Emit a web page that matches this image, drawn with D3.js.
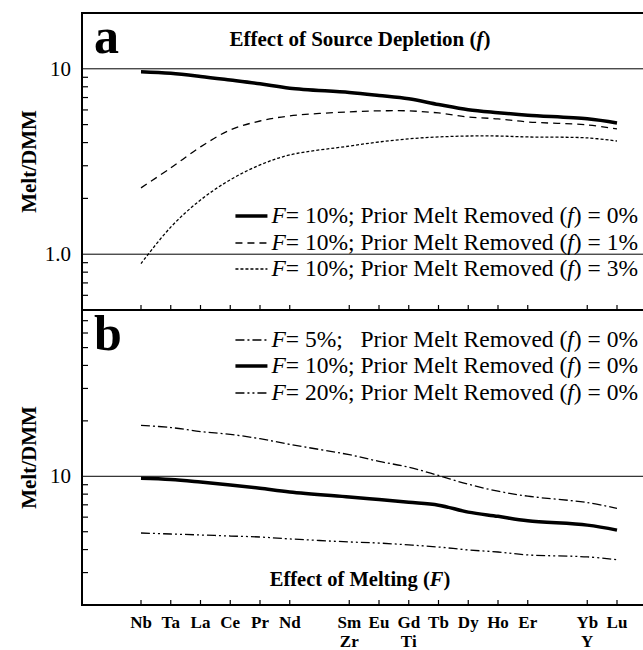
<!DOCTYPE html>
<html><head><meta charset="utf-8">
<script src="https://cdn.jsdelivr.net/npm/d3@7"></script>
<style>body{margin:0;background:#fff}</style>
</head><body>
<script>
// element positions along the x axis (gaps at 6 and 14)
const elements = ["Nb","Ta","La","Ce","Pr","Nd","Sm","Eu","Gd","Tb","Dy","Ho","Er","Yb","Lu"];
const elemPos  = [0,1,2,3,4,5,7,8,9,10,11,12,13,15,16];
const subLabels = {Sm:"Zr", Gd:"Ti", Yb:"Y"};

// panel a: source depletion
const aF10f0 = [9.63,9.45,9.1,8.7,8.30,7.86,7.45,7.18,6.89,6.42,6.02,5.8,5.62,5.37,5.10];
const aF10f1 = [2.28,2.92,3.79,4.68,5.23,5.57,5.86,5.93,5.93,5.78,5.50,5.37,5.17,4.98,4.74];
const aF10f3 = [0.89,1.40,1.96,2.52,3.03,3.43,3.83,4.03,4.19,4.29,4.34,4.34,4.29,4.24,4.08];
// panel b: melting
const bF5  = [18.9,18.4,17.5,16.9,16.0,14.9,13.1,12.05,11.2,10.1,9.05,8.3,7.8,7.2,6.7];
const bF10 = [9.75,9.6,9.3,8.97,8.61,8.22,7.72,7.48,7.23,6.97,6.39,6.06,5.73,5.43,5.1];
const bF20 = [4.92,4.86,4.80,4.74,4.68,4.57,4.40,4.34,4.24,4.13,3.98,3.88,3.74,3.65,3.52];

const FONT = "'Liberation Serif', 'Times New Roman', 'DejaVu Serif', serif";
const W = 643, H = 650, left = 82, right = 643;
const svg = d3.select("body").append("svg").attr("width", W).attr("height", H)
  .attr("font-family", FONT);

const x = d3.scaleLinear().domain([0,16]).range([141,617]);

const styles = {
  solid: {w:3.5, dash:null},
  dash: {w:1.3, dash:"7,5"},
  dot: {w:1.3, dash:"3,2"},
  dashdot: {w:1.3, dash:"9,3,2,3"},
  dashdotdot: {w:1.3, dash:"9,3,2,3,2,3"}
};

function panel(top, bottom, domain, gridVals, tickFmt, series, label, title, titleY, legend) {
  const y = d3.scaleLog().domain(domain).range([bottom, top]);
  const g = svg.append("g");
  g.selectAll("line.grid").data(gridVals).enter().append("line")
    .attr("x1", left).attr("x2", right).attr("y1", d => y(d)).attr("y2", d => y(d))
    .attr("stroke", "#000").attr("stroke-width", 1);
  const ticks = y.ticks().filter(d => d > domain[0] && d < domain[1]);
  g.selectAll("line.yt").data(ticks).enter().append("line")
    .attr("x1", left).attr("x2", d => gridVals.includes(d) ? left : left + 6)
    .attr("y1", d => y(d)).attr("y2", d => y(d)).attr("stroke", "#000").attr("stroke-width", 1.2);
  g.selectAll("text.yl").data(gridVals).enter().append("text")
    .attr("x", left - 11).attr("y", d => y(d) + 7).attr("text-anchor", "end")
    .attr("font-size", 21).text(tickFmt);
  g.selectAll("line.xt").data(elemPos).enter().append("line")
    .attr("x1", d => x(d)).attr("x2", d => x(d)).attr("y1", bottom).attr("y2", bottom - 5)
    .attr("stroke", "#000").attr("stroke-width", 1.2);
  const line = d3.line().x((d,i) => x(elemPos[i])).y(d => y(d)).curve(d3.curveCatmullRom.alpha(0.5));
  series.forEach(s => {
    g.append("path").attr("d", line(s.data)).attr("fill", "none").attr("stroke", "#000")
      .attr("stroke-width", styles[s.style].w).attr("stroke-dasharray", styles[s.style].dash);
  });
  g.append("text").attr("x", 94).attr("y", top + 40).attr("font-size", 50).attr("font-weight", "bold").text(label);
  const t = g.append("text").attr("x", 360).attr("y", titleY).attr("text-anchor", "middle")
    .attr("font-size", title.size).attr("font-weight", "bold");
  t.append("tspan").text(title.text + " (");
  t.append("tspan").attr("font-style", "italic").text(title.sym);
  t.append("tspan").text(")");
  legend.forEach(l => {
    const tx = g.append("text").attr("x", 638).attr("y", l.y).attr("text-anchor", "end").attr("font-size", 23.5)
      .style("white-space", "pre");
    tx.append("tspan").attr("font-style", "italic").text("F");
    tx.append("tspan").text("= " + l.F + (l.F.length < 4 ? "   " : " ") + "Prior Melt Removed (");
    tx.append("tspan").attr("font-style", "italic").text("f");
    tx.append("tspan").text(") = " + l.f);
    const start = 638 - tx.node().getComputedTextLength();
    g.append("line").attr("x1", start - 36).attr("x2", start - 4).attr("y1", l.y - 7).attr("y2", l.y - 7)
      .attr("stroke", "#000").attr("stroke-width", styles[l.style].w).attr("stroke-dasharray", styles[l.style].dash);
  });
  g.append("rect").attr("x", left).attr("y", top).attr("width", right - left + 2).attr("height", bottom - top)
    .attr("fill", "none").attr("stroke", "#000").attr("stroke-width", 2);
  g.append("text").attr("transform", `translate(36,${(top + bottom) / 2}) rotate(-90)`)
    .attr("text-anchor", "middle").attr("font-size", 21).attr("font-weight", "bold").text("Melt/DMM");
}

panel(13, 310, [0.5, 20], [10, 1], d => d === 1 ? "1.0" : "10",
  [{data: aF10f0, style: "solid"}, {data: aF10f1, style: "dash"}, {data: aF10f3, style: "dot"}],
  "a", {text: "Effect of Source Depletion", sym: "f", size: 21}, 46,
  [{F: "10%;", f: "0%", style: "solid", y: 223}, {F: "10%;", f: "1%", style: "dash", y: 250}, {F: "10%;", f: "3%", style: "dot", y: 276}]);

panel(310, 605, [2, 80], [10], d => "10",
  [{data: bF5, style: "dashdot"}, {data: bF10, style: "solid"}, {data: bF20, style: "dashdotdot"}],
  "b", {text: "Effect of Melting", sym: "F", size: 20.5}, 586,
  [{F: "5%;", f: "0%", style: "dashdot", y: 347}, {F: "10%;", f: "0%", style: "solid", y: 373}, {F: "20%;", f: "0%", style: "dashdotdot", y: 400}]);

svg.selectAll("text.el").data(elements).enter().append("text")
  .attr("x", (d,i) => x(elemPos[i])).attr("y", 628).attr("text-anchor", "middle")
  .attr("font-size", 17).attr("font-weight", "bold").text(d => d);
svg.selectAll("text.sub").data(Object.keys(subLabels)).enter().append("text")
  .attr("x", d => x(elemPos[elements.indexOf(d)])).attr("y", 647).attr("text-anchor", "middle")
  .attr("font-size", 17).attr("font-weight", "bold").text(d => subLabels[d]);
</script>
</body></html>
